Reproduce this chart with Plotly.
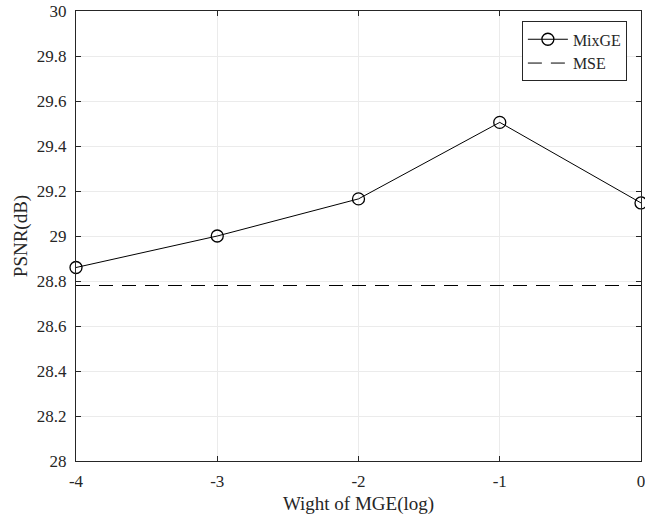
import plotly.graph_objects as go

x_vals = [-4, -3, -2, -1, 0]
mixge = [28.86, 29.0, 29.165, 29.505, 29.147]
mse = [28.78, 28.78, 28.78, 28.78, 28.78]
y_ticks = [28, 28.2, 28.4, 28.6, 28.8, 29, 29.2, 29.4, 29.6, 29.8, 30]
y_tick_text = ["28", "28.2", "28.4", "28.6", "28.8", "29", "29.2", "29.4", "29.6", "29.8", "30"]

font = "Times New Roman, Liberation Serif, serif"
fig = go.Figure()
fig.add_trace(go.Scatter(x=x_vals, y=mixge, name="MixGE", mode="lines+markers",
                         line=dict(color="black", width=1),
                         marker=dict(symbol="circle-open", size=12, color="black",
                                     line=dict(width=1.3, color="black")),
                         cliponaxis=False))
fig.add_trace(go.Scatter(x=x_vals, y=mse, name="MSE", mode="lines",
                         line=dict(color="black", width=1, dash="14px,9px")))

axis_common = dict(showline=True, linecolor="#262626", linewidth=1, mirror="ticks",
                   ticks="inside", ticklen=5, tickcolor="#262626", automargin=False,
                   showgrid=True, gridcolor="#ebebeb", gridwidth=1, zeroline=False,
                   ticklabeloverflow="allow", ticklabelstandoff=5,
                   tickfont=dict(family=font, size=17, color="#262626"))

fig.update_layout(
    width=645, height=519,
    margin=dict(l=76, r=4, t=11, b=58),
    paper_bgcolor="white", plot_bgcolor="white",
    font=dict(family=font, color="#262626"),
    xaxis=dict(range=[-4, 0], tickvals=x_vals, ticktext=[str(v) for v in x_vals],
               title=dict(text="Wight of MGE(log)", font=dict(family=font, size=19, color="#262626"), standoff=6),
               **axis_common),
    yaxis=dict(range=[28, 30], tickvals=y_ticks, ticktext=y_tick_text,
               title=dict(text="PSNR(dB)", font=dict(family=font, size=19, color="#262626"), standoff=4),
               **axis_common),
    legend=dict(x=0.975, y=0.977, xanchor="right", yanchor="top",
                bgcolor="white", bordercolor="#262626", borderwidth=1,
                font=dict(family=font, size=16, color="#262626"),
                tracegroupgap=0, itemwidth=40),
    showlegend=True,
)

fig.write_html("out.html", config={"displayModeBar": False},
               post_script="document.body.style.margin='0';document.body.style.overflow='hidden';")
